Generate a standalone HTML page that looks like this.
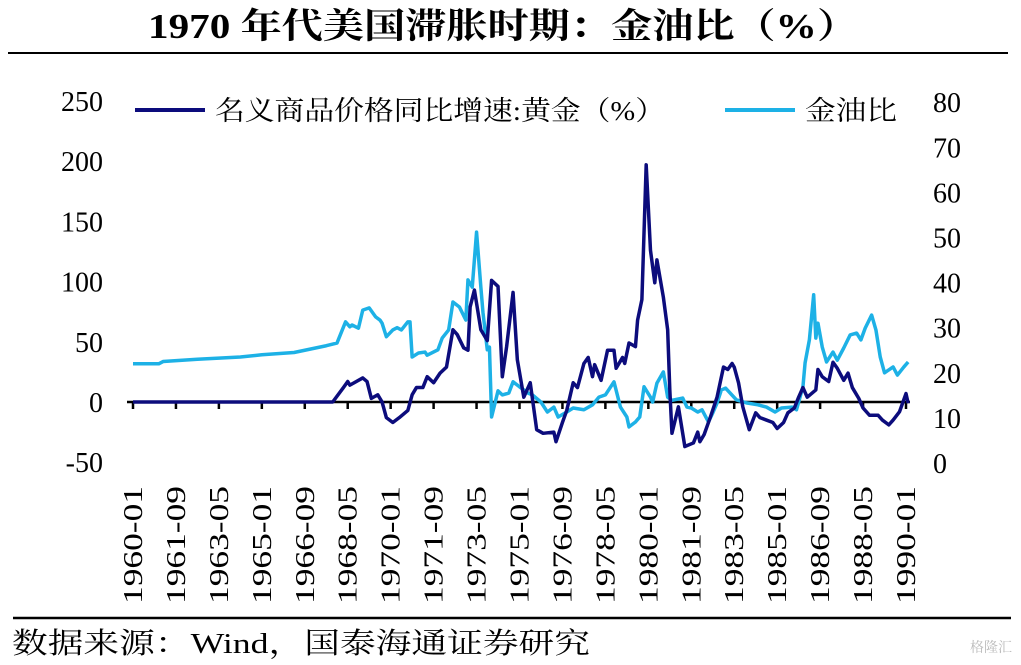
<!DOCTYPE html>
<html><head><meta charset="utf-8"><style>
html,body{margin:0;padding:0;background:#fff;}
svg{display:block;}
text{font-family:"Liberation Serif","Noto Serif CJK SC",serif;}
</style></head><body>
<svg id="chart" width="1021" height="665" viewBox="0 0 1021 665">
<text x="148" y="38" textLength="710" lengthAdjust="spacingAndGlyphs" font-size="35" font-weight="bold" fill="#000">1970 年代美国滞胀时期：金油比（%）</text>
<line x1="8" y1="53" x2="1008" y2="53" stroke="#000" stroke-width="2"/>
<line x1="13" y1="618" x2="1011" y2="618" stroke="#000" stroke-width="2.5"/>
<text x="12" y="653" textLength="578" lengthAdjust="spacingAndGlyphs" font-size="29" fill="#000">数据来源：Wind，国泰海通证券研究</text>
<text x="1012" y="652" text-anchor="end" font-size="14" fill="#bbb" font-family="Liberation Sans, Noto Sans CJK SC, sans-serif">格隆汇</text>
<g id="legend">
<line x1="135" y1="110" x2="205" y2="110" stroke="#0c0c7c" stroke-width="4"/>
<text x="215" y="120" textLength="450" lengthAdjust="spacingAndGlyphs" font-size="27" fill="#000">名义商品价格同比增速:黄金（%）</text>
<line x1="725" y1="110" x2="795" y2="110" stroke="#1db1e6" stroke-width="4"/>
<text x="805" y="120" textLength="92" lengthAdjust="spacingAndGlyphs" font-size="27" fill="#000">金油比</text>
</g>
<g id="axes"></g>
<g id="series"></g>
</svg>
<script>
const leftTicks = [250,200,150,100,50,0,-50];
const rightTicks = [80,70,60,50,40,30,20,10,0];
const xTickLabels = ["1960-01","1961-09","1963-05","1965-01","1966-09","1968-05","1970-01","1971-09","1973-05","1975-01","1976-09","1978-05","1980-01","1981-09","1983-05","1985-01","1986-09","1988-05","1990-01"];
const goldMonths = [0,93,98,100,101,103,107,109,111,114,116,118,121,124,128,130,132,135,137,140,143,146,149,151,154,156,157,159,162,165,167,170,172,174,177,179,182,185,188,191,196,197,200,202,205,207,210,212,214,215,218,221,224,225,228,229,231,234,235,237,239,241,243,244,247,249,250,251,254,257,261,263,264,266,269,272,275,277,279,280,282,284,287,290,292,295,298,300,303,305,308,310,312,314,318,319,321,324,326,328,331,333,335,338,340,343,347,349,352,354,357,360,361];
const goldValues = [0,0,12,17,14,16,20,17,3,6,0,-13,-17,-13,-7,6,12,12,21,16,24,29,60,56,45,43,79,93,60,51,101,96,21,46,91,35,4,16,-23,-26,-25,-33,-17,-7,16,12,32,37,21,31,18,43,43,28,37,32,49,46,68,85,197,126,99,118,87,60,10,-26,-4,-37,-34,-25,-33,-27,-12,4,29,27,32,29,16,-4,-23,-9,-13,-15,-17,-22,-17,-9,-5,4,12,4,10,27,21,17,33,28,18,24,12,3,-5,-11,-11,-15,-19,-15,-8,7,-1];
const ratioMonths = [0,12,14,30,50,60,75,85,90,95,99,101,102,105,107,110,113,115,116,118,121,123,125,128,129,130,133,136,137,142,144,147,149,152,155,156,158,160,162,163,165,166,167,170,172,175,177,180,184,186,190,193,196,198,202,205,210,214,217,220,224,227,230,231,234,236,238,241,242,244,247,249,251,256,258,260,263,265,268,270,272,274,276,281,286,291,295,299,302,307,309,312,313,315,317,318,319,321,323,326,328,331,334,337,339,341,344,346,348,350,354,356,359,361];
const ratioValues = [22,22,22.5,23,23.5,24,24.5,25.5,26,26.6,31.3,30.2,30.6,29.9,33.9,34.4,32.4,31.7,31,28,29.5,30,29.5,31.3,31.3,23.5,24.4,24.6,23.9,25.1,27.7,29.5,35.7,34.6,31.7,40.6,39,51.2,39,33.3,25.1,25.7,10.2,16,15.1,15.5,18,16.9,15.5,15.1,13.5,11.3,12.4,10.2,11.3,12.2,11.8,12.9,14.6,15.1,18,12.4,10.2,8,9.1,10.2,16.9,14.6,13.5,17.7,20.2,14.6,13.9,14.4,12.4,12.2,11.3,11.8,9.1,11.1,13.3,16.2,16.6,14,13.3,12.9,12.4,11.3,12.2,12.4,11.8,16.9,22.2,27.3,37.3,27.7,31,25.7,22.4,24.6,22.8,25.5,28.4,28.8,27.3,29.9,32.8,29.5,23.5,20,21.3,19.5,21.3,22.4];

const NS = "http://www.w3.org/2000/svg";
const X0 = 133, X1 = 906, MONTHS = 360;
const xScale = m => X0 + (X1 - X0) * m / MONTHS;
const yLeft = v => 402 - (v / 50) * 60.2;
const yRight = v => 463 - (v / 10) * 45.1;
function mk(tag, attrs, parent){ const e=document.createElementNS(NS,tag); for(const k in attrs) e.setAttribute(k,attrs[k]); parent.appendChild(e); return e; }
const axes = document.getElementById('axes');
const series = document.getElementById('series');

leftTicks.forEach(v=>{
  const t = mk('text',{x:103,y:yLeft(v)+10,'text-anchor':'end','font-size':'28',fill:'#000'},axes);
  t.textContent = v;
  
  
});
rightTicks.forEach(v=>{
  const t = mk('text',{x:933,y:yRight(v)+10,'text-anchor':'start','font-size':'28',fill:'#000'},axes);
  t.textContent = v;
  
  
});
const axisLine = mk('line',{x1:127,y1:yLeft(0),x2:910,y2:yLeft(0),stroke:'#000','stroke-width':2.5},axes);


xTickLabels.forEach((lab,i)=>{
  const x = xScale(i*20);
  const tk = mk('line',{x1:x,y1:yLeft(0),x2:x,y2:yLeft(0)+7,stroke:'#000','stroke-width':2.5},axes);
  
  
  const t = mk('text',{x:0,y:0,'text-anchor':'end','font-size':'27',textLength:'118',lengthAdjust:'spacingAndGlyphs',fill:'#000',transform:`translate(${x+9},486) rotate(-90)`},axes);
  t.textContent = lab;
  
  
});

const ratioPath = mk('polyline',{points:ratioMonths.map((m,i)=>xScale(m)+','+yRight(ratioValues[i])).join(' '),fill:'none',stroke:'#1db1e6','stroke-width':3.5,'stroke-linejoin':'round'},series);


const goldPath = mk('polyline',{points:goldMonths.map((m,i)=>xScale(m)+','+yLeft(goldValues[i])).join(' '),fill:'none',stroke:'#0c0c7c','stroke-width':3.5,'stroke-linejoin':'round'},series);


</script>
</body></html>
